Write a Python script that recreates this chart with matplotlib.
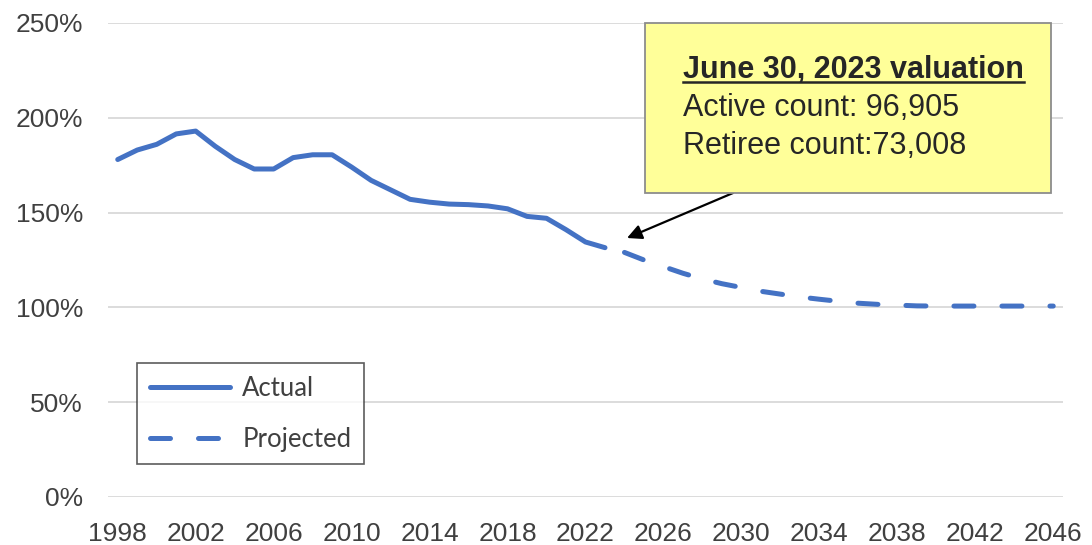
import matplotlib
matplotlib.use("Agg")
import matplotlib.pyplot as plt
from matplotlib.lines import Line2D
from matplotlib.patches import Rectangle

# Funded ratio values (percent)
years_actual = list(range(1998, 2024))
actual = [178, 183, 186, 191.5, 193, 185, 178, 173, 173, 179, 180.5, 180.5, 174,
          167, 162, 157, 155.5, 154.5, 154.2, 153.5, 152, 148, 147, 141, 134.5, 131.5]

years_proj = list(range(2024, 2047))
projected = [129, 125, 121.5, 118, 115, 112.5, 110.5, 108.5, 107, 105.5, 104.3, 103.2,
             102.2, 101.6, 101.2, 100.8, 100.7, 100.7, 100.7, 100.7, 100.7, 100.7, 100.7]

y_ticks = [0, 50, 100, 150, 200, 250]
x_ticks = list(range(1998, 2047, 4))

box_title = "June 30, 2023 valuation"
box_lines = ["Active count: 96,905", "Retiree count:73,008"]

W, H = 1092, 545
blue = "#4472C4"
plt.rcParams["font.family"] = ["Liberation Sans", "DejaVu Sans"]

fig = plt.figure(figsize=(W / 100, H / 100), dpi=100)
ax = fig.add_axes([108 / W, 1 - 497 / H, (1063 - 108) / W, (497 - 23) / H])

lw = 3.6
ax.plot(years_actual, actual, color=blue, lw=lw, solid_capstyle="round",
        solid_joinstyle="round", label="Actual", zorder=3)
ax.plot(years_proj, projected, color=blue, lw=lw, dashes=(4, 5.6),
        dash_capstyle="round", label="Projected", zorder=3)

ax.set_xlim(1997.5, 2046.5)
ax.set_ylim(0, 250)
ax.set_yticks(y_ticks)
ax.set_yticklabels([f"{v}%" for v in y_ticks])
ax.set_xticks(x_ticks)
ax.set_xticklabels([str(v) for v in x_ticks])
ax.tick_params(length=0, labelsize=19, labelcolor="#404040")
ax.tick_params(axis="y", pad=18)
ax.tick_params(axis="x", pad=18)
ax.grid(axis="y", color="#d9d9d9", lw=1.3)
ax.set_axisbelow(True)
for s in ax.spines.values():
    s.set_visible(False)

# legend
handles = [Line2D([], [], color=blue, lw=lw, solid_capstyle="round"),
           Line2D([], [], color=blue, lw=lw, dashes=(4, 5.6), dash_capstyle="round")]
leg = ax.legend(handles, ["Actual", "Projected"], loc="upper left",
                bbox_to_anchor=(137 / W, 1 - 363 / H), bbox_transform=fig.transFigure,
                borderaxespad=0, fancybox=False, frameon=True,
                prop={"family": "Lato", "size": 18.5}, handlelength=3.1,
                handletextpad=0.5, borderpad=0.5, labelspacing=1.0)
leg.get_frame().set_edgecolor("#333333")
leg.get_frame().set_linewidth(1.2)
for t in leg.get_texts():
    t.set_color("#404040")

# annotation box
box = Rectangle((645 / W, 1 - 193 / H), (1051 - 645) / W, (193 - 23) / H,
                transform=fig.transFigure, facecolor="#FFFF99", edgecolor="#8c8c8c",
                lw=1.3, zorder=5)
fig.patches.append(box)
title = fig.text(683 / W, 1 - 78 / H, box_title, fontsize=22, fontweight="bold",
                 color="#262626", va="baseline", zorder=6)
for i, line in enumerate(box_lines):
    fig.text(683 / W, 1 - (116 + 38 * i) / H, line, fontsize=22,
             color="#262626", va="baseline", zorder=6)

fig.canvas.draw()
bb = title.get_window_extent(fig.canvas.get_renderer())
uy = (H - 82) / H
fig.add_artist(Line2D([bb.x0 / W, bb.x1 / W], [uy, uy], transform=fig.transFigure,
                      color="#262626", lw=1.8, zorder=6))

ax.annotate("", xy=(2024.13, 136.6), xycoords="data",
            xytext=(733 / W, 1 - 193 / H), textcoords="figure fraction",
            arrowprops=dict(arrowstyle="-|>", color="black", lw=1.6,
                            mutation_scale=22, shrinkA=0, shrinkB=0), zorder=7)

fig.savefig("out.png", dpi=100)
